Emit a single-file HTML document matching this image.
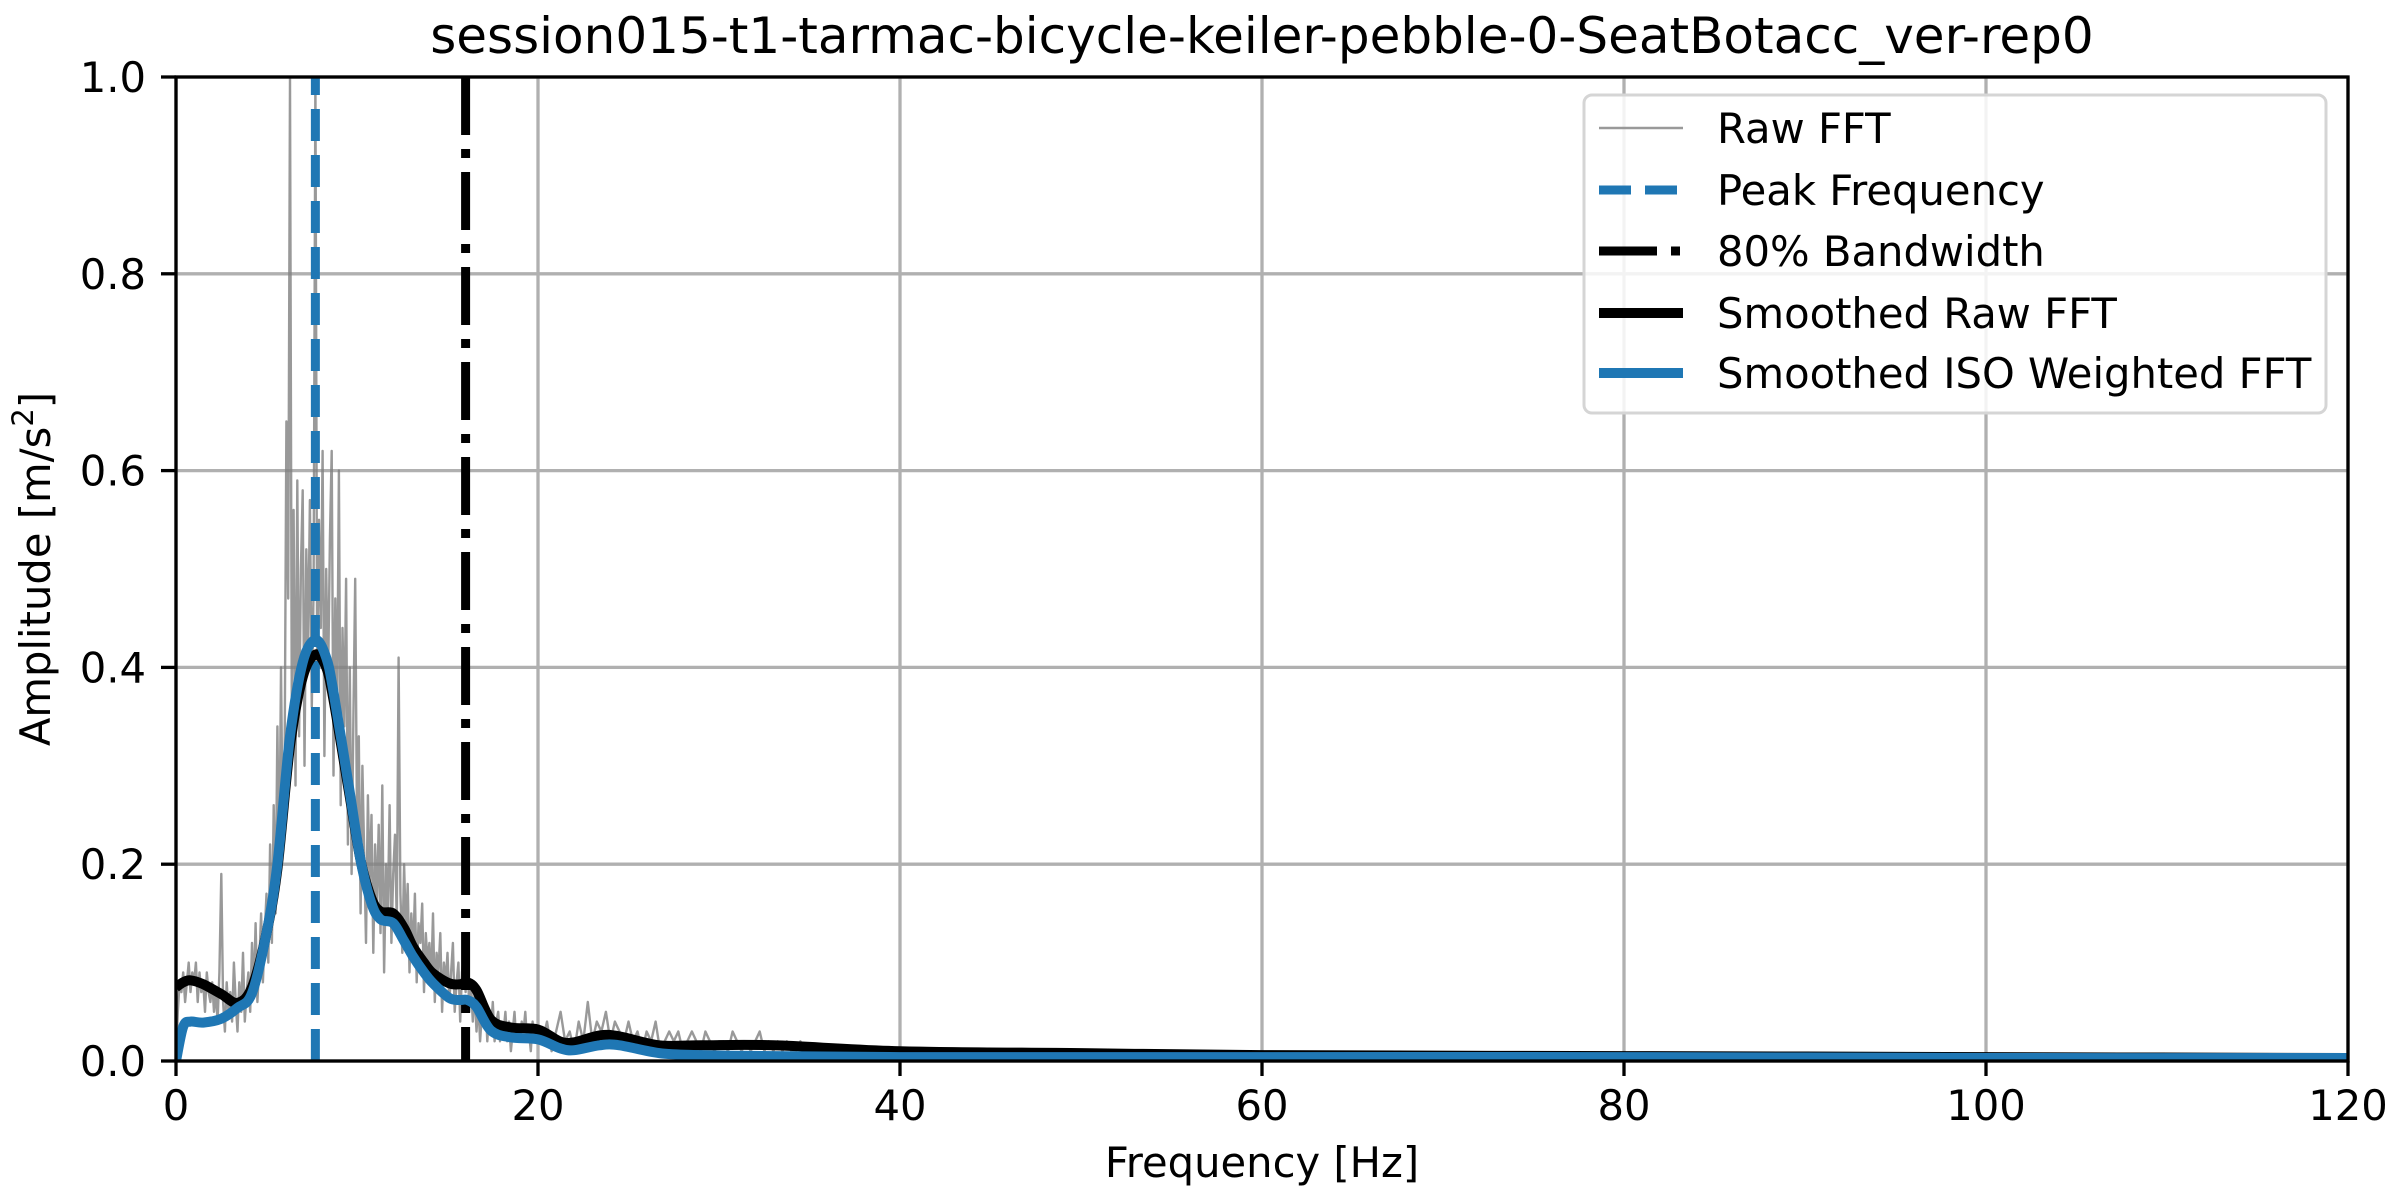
<!DOCTYPE html>
<html><head><meta charset="utf-8"><style>
html,body{margin:0;padding:0;background:#fff;}
svg{display:block;font-family:"DejaVu Sans","Liberation Sans",sans-serif;}
</style></head><body>
<svg id="chart" width="2400" height="1200" viewBox="0 0 2400 1200" xmlns="http://www.w3.org/2000/svg">
<rect width="2400" height="1200" fill="#fff"/>
<g id="grid"></g>
<g id="series"></g>
<g id="axes"></g>
<text x="1262" y="53" font-size="50" text-anchor="middle">session015-t1-tarmac-bicycle-keiler-pebble-0-SeatBotacc_ver-rep0</text>
<text x="1262" y="1177" font-size="41.7" text-anchor="middle">Frequency [Hz]</text>
<text transform="translate(50,569) rotate(-90)" font-size="41.7" text-anchor="middle">Amplitude [m/s<tspan baseline-shift="super" font-size="29">2</tspan>]</text>
<g id="legend">
<rect x="1584" y="95" width="742" height="318" rx="8" fill="#fff" fill-opacity="0.85" stroke="#d5d5d5" stroke-width="3"/>
<line x1="1599" y1="128" x2="1683" y2="128" stroke="#999" stroke-width="2.5"/>
<text x="1717" y="143" font-size="41.7">Raw FFT</text>
<line x1="1599" y1="190" x2="1683" y2="190" stroke="#1f77b4" stroke-width="9" stroke-dasharray="32 14"/>
<text x="1717" y="205" font-size="41.7">Peak Frequency</text>
<line x1="1599" y1="251" x2="1683" y2="251" stroke="#000" stroke-width="9" stroke-dasharray="58 14 9 100"/>
<text x="1717" y="266" font-size="41.7">80% Bandwidth</text>
<line x1="1599" y1="313" x2="1683" y2="313" stroke="#000" stroke-width="10"/>
<text x="1717" y="328" font-size="41.7">Smoothed Raw FFT</text>
<line x1="1599" y1="373" x2="1683" y2="373" stroke="#1f77b4" stroke-width="10"/>
<text x="1717" y="388" font-size="41.7">Smoothed ISO Weighted FFT</text>
</g>
</svg>
<script>
const xTicks=[0,20,40,60,80,100,120];
const yTicks=[0,0.2,0.4,0.6,0.8,1.0];
const yTickLabels=["0.0","0.2","0.4","0.6","0.8","1.0"];
const peakFreq=7.7;
const bandwidthFreq=16.0;
// Raw FFT segments
const rawAStart=0, rawAStep=0.1;
const rawA=[0.00,0.05,0.08,0.07,0.09,0.06,0.08,0.10,0.07,0.09,
0.08,0.10,0.06,0.09,0.07,0.08,0.05,0.09,0.07,0.06,
0.08,0.05,0.07,0.04,0.09,0.19,0.06,0.03,0.08,0.05,
0.07,0.04,0.10,0.06,0.03,0.08,0.05,0.11,0.04,0.07,
0.09,0.05,0.12,0.07,0.14,0.06,0.10,0.15,0.08,0.13,
0.17,0.10,0.22,0.12,0.26,0.15,0.34,0.18,0.40,0.22,
0.30,0.65,0.47,1.00,0.35,0.56,0.28,0.59,0.33,0.50,
0.58,0.30,0.52,0.42,0.57,0.36,0.48,1.00,0.39,0.55,
0.44,0.62,0.31,0.50,0.38,0.53,0.62,0.29,0.47,0.35,
0.60,0.26,0.44,0.34,0.49,0.22,0.40,0.19,0.35,0.49,
0.24,0.33,0.15,0.30,0.21,0.12,0.27,0.18,0.25,0.11,
0.22,0.16,0.24,0.13,0.28,0.09,0.20,0.15,0.26,0.12,
0.19,0.23,0.14,0.41,0.17,0.11,0.20,0.13,0.18,0.09,
0.15,0.11,0.17,0.08,0.14,0.12,0.16,0.07,0.13,0.10,
0.12,0.08,0.15,0.06,0.11,0.09,0.13,0.05,0.10,0.08,
0.11,0.06,0.09,0.12,0.05,0.08,0.10,0.04,0.09,0.11,
0.07,0.12,0.05,0.08,0.04,0.07,0.03,0.06,0.02,0.05,
0.04,0.06,0.02,0.05,0.03,0.06,0.02,0.04,0.05,0.02,
0.04,0.03,0.05,0.02,0.04,0.01,0.03,0.05,0.02,0.03,
0.02,0.04,0.03,0.05,0.02,0.03,0.01,0.04,0.02,0.03,0.03];
const rawBStart=20.25, rawBStep=0.25;
const rawB=[0.02,0.04,0.01,0.03,0.05,0.02,0.03,0.01,0.04,0.02,0.06,0.02,0.04,0.03,0.05,0.02,0.04,0.03,0.02,0.04,
0.02,0.03,0.01,0.03,0.02,0.04,0.01,0.02,0.03,0.02,0.03,0.01,0.02,0.03,0.02,0.01,0.03,0.02,0.01,0.02,
0.02,0.01,0.03,0.02,0.01,0.02,0.01,0.02,0.03,0.01,0.02,0.01,0.02,0.01,0.02,0.01,0.01,0.02,0.01,0.01,
0.015,0.01,0.008,0.012,0.01,0.007,0.012,0.009,0.008,0.01,0.006,0.009,0.007,0.008,0.006,0.007,0.009,0.006,0.007,0.006];
const rawCStart=41, rawCStep=1;
const rawC=[0.006,0.005,0.007,0.005,0.006,0.004,0.006,0.005,0.004,0.006,0.005,0.004,0.006,0.005,0.004,0.005,0.006,0.004,0.005,0.004,
0.005,0.004,0.006,0.004,0.005,0.004,0.004,0.005,0.004,0.006,0.004,0.005,0.004,0.004,0.005,0.004,0.005,0.004,0.004,0.005,
0.004,0.005,0.004,0.004,0.005,0.004,0.004,0.005,0.004,0.004,0.005,0.004,0.004,0.005,0.004,0.004,0.005,0.004,0.004,0.004,
0.005,0.004,0.004,0.004,0.005,0.004,0.004,0.004,0.005,0.004,0.004,0.004,0.004,0.005,0.004,0.004,0.004,0.004,0.004,0.004];
// Smoothed series
const smoothFreq=[0,0.4,0.8,1.5,2.5,3.4,4.2,5.0,5.6,6.3,7.0,7.7,8.3,8.7,9.5,10.2,10.8,11.3,12.0,12.6,13.1,13.7,14.2,15.1,15.7,16.1,16.6,17.4,18.5,20,21.2,22,23.4,24.5,26.7,29,33,40,50,60,80,100,120];
const smoothRaw=[0.075,0.080,0.082,0.078,0.068,0.059,0.075,0.13,0.195,0.32,0.39,0.413,0.40,0.367,0.28,0.204,0.165,0.152,0.150,0.135,0.116,0.100,0.089,0.079,0.078,0.080,0.072,0.042,0.034,0.032,0.020,0.019,0.026,0.025,0.016,0.016,0.016,0.010,0.008,0.006,0.005,0.004,0.003];
const smoothIso=[0.0,0.035,0.040,0.039,0.043,0.054,0.069,0.13,0.20,0.33,0.405,0.428,0.41,0.375,0.285,0.204,0.16,0.144,0.140,0.122,0.106,0.090,0.079,0.064,0.062,0.062,0.055,0.031,0.024,0.022,0.013,0.011,0.016,0.016,0.008,0.006,0.005,0.004,0.004,0.004,0.004,0.003,0.003];

const X0=176,X1=2348,Y0=1061,Y1=77;
const xMin=0,xMax=120,yMin=0,yMax=1;
function sx(v){return X0+(v-xMin)/(xMax-xMin)*(X1-X0);}
function sy(v){return Y0-(v-yMin)/(yMax-yMin)*(Y0-Y1);}
const NS="http://www.w3.org/2000/svg";
function mk(tag,attrs,parent){const e=document.createElementNS(NS,tag);for(const k in attrs)e.setAttribute(k,attrs[k]);parent.appendChild(e);return e;}
const grid=document.getElementById('grid'),series=document.getElementById('series'),axes=document.getElementById('axes');

xTicks.forEach(t=>{
  const g=mk('line',{x1:sx(t),x2:sx(t),y1:Y0,y2:Y1,stroke:'#b0b0b0','stroke-width':3.3},grid);
  
  
  const tk=mk('line',{x1:sx(t),x2:sx(t),y1:Y0,y2:Y0+15,stroke:'#000','stroke-width':3.3},axes);
  
  
  const tx=mk('text',{x:sx(t),y:1120,'font-size':41.7,'text-anchor':'middle'},axes);
  tx.textContent=String(t);
  
  
});
yTicks.forEach((t,i)=>{
  const g=mk('line',{x1:X0,x2:X1,y1:sy(t),y2:sy(t),stroke:'#b0b0b0','stroke-width':3.3},grid);
  
  
  const tk=mk('line',{x1:X0-15,x2:X0,y1:sy(t),y2:sy(t),stroke:'#000','stroke-width':3.3},axes);
  
  
  const tx=mk('text',{x:X0-30,y:sy(t)+15,'font-size':41.7,'text-anchor':'end'},axes);
  tx.textContent=yTickLabels[i];
  
  
});

const defs=mk('defs',{},series);
const cp=mk('clipPath',{id:'plotclip'},defs);
mk('rect',{x:X0,y:Y1,width:X1-X0,height:Y0-Y1},cp);
const plot=mk('g',{'clip-path':'url(#plotclip)'},series);

let pts=[];
rawA.forEach((v,i)=>pts.push([rawAStart+i*rawAStep,v]));
rawB.forEach((v,i)=>pts.push([rawBStart+i*rawBStep,v]));
rawC.forEach((v,i)=>pts.push([rawCStart+i*rawCStep,v]));
const rawPath=mk('path',{d:'M'+pts.map(p=>sx(p[0]).toFixed(1)+','+sy(p[1]).toFixed(1)).join('L'),fill:'none',stroke:'#808080','stroke-opacity':0.8,'stroke-width':2.4,'stroke-linejoin':'round'},plot);



const pk=mk('line',{x1:sx(peakFreq),x2:sx(peakFreq),y1:Y0,y2:Y1,stroke:'#1f77b4','stroke-width':9,'stroke-dasharray':'32 14'},plot);


const bw=mk('line',{x1:sx(bandwidthFreq),x2:sx(bandwidthFreq),y1:Y1,y2:Y0,stroke:'#000','stroke-width':9,'stroke-dasharray':'58 14 9 14'},plot);



function smoothPath(xs,ys){
  const P=xs.map((x,i)=>[sx(x),sy(ys[i])]);
  let d='M'+P[0][0].toFixed(1)+','+P[0][1].toFixed(1);
  for(let i=0;i<P.length-1;i++){
    const p0=P[Math.max(i-1,0)],p1=P[i],p2=P[i+1],p3=P[Math.min(i+2,P.length-1)];
    const c1=[p1[0]+(p2[0]-p0[0])/6,p1[1]+(p2[1]-p0[1])/6];
    const c2=[p2[0]-(p3[0]-p1[0])/6,p2[1]-(p3[1]-p1[1])/6];
    d+='C'+c1[0].toFixed(1)+','+c1[1].toFixed(1)+' '+c2[0].toFixed(1)+','+c2[1].toFixed(1)+' '+p2[0].toFixed(1)+','+p2[1].toFixed(1);
  }
  return d;
}
const sr=mk('path',{d:smoothPath(smoothFreq,smoothRaw),fill:'none',stroke:'#000','stroke-width':10,'stroke-linejoin':'round'},plot);


const si=mk('path',{d:smoothPath(smoothFreq,smoothIso),fill:'none',stroke:'#1f77b4','stroke-width':10,'stroke-linejoin':'round'},plot);



const frame=mk('rect',{x:X0,y:Y1,width:X1-X0,height:Y0-Y1,fill:'none',stroke:'#000','stroke-width':3.3},axes);


</script>
</body></html>
